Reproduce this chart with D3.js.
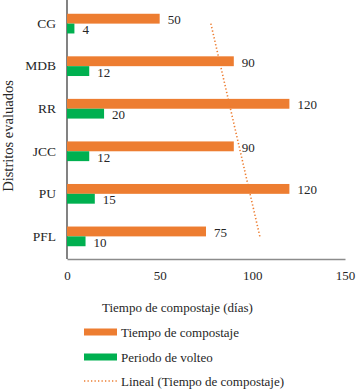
<!DOCTYPE html>
<html>
<head>
<meta charset="utf-8">
<script src="https://cdn.jsdelivr.net/npm/d3@7"></script>
<style>
  body { margin: 0; background: #fff; }
  svg text { font-family: "Liberation Serif", "DejaVu Serif", "Times New Roman", Times, serif !important; fill: #262626; }
</style>
</head>
<body>
<div id="plot"></div>
<script>
const districts = ["CG", "MDB", "RR", "JCC", "PU", "PFL"];
const tiempoCompostaje = [50, 90, 120, 90, 120, 75];
const periodoVolteo = [4, 12, 20, 12, 15, 10];
const xTicks = [0, 50, 100, 150];
const seriesNames = ["Tiempo de compostaje", "Periodo de volteo"];
const trendName = "Lineal (Tiempo de compostaje)";

const orange = "#ed7d31";
const green = "#00b050";

const w = 359, h = 391;
const plotLeft = 67, plotRight = 345, plotTop = 1, plotBottom = 259;

const svg = d3.select("#plot").append("svg")
  .attr("width", w).attr("height", h);

const xScale = d3.scaleLinear().domain([0, 150]).range([plotLeft, plotRight]);
const yScale = d3.scaleBand().domain(districts).range([plotTop, plotBottom])
  .paddingInner(0.537).paddingOuter(0.3);
const sub = d3.scaleBand().domain([0, 1]).range([0, yScale.bandwidth()]);

// axes
const xAxis = d3.axisBottom(xScale).tickValues(xTicks).tickSize(0).tickPadding(12);
const gx = svg.append("g").attr("transform", "translate(0," + plotBottom + ")").call(xAxis);
gx.select(".domain").attr("stroke", "#8c8c8c").attr("stroke-width", 1.3);
gx.selectAll("text").attr("font-size", 13).attr("fill", "#262626");

const yAxis = d3.axisLeft(yScale).tickSize(0).tickPadding(11);
const gy = svg.append("g").attr("transform", "translate(" + plotLeft + ",0)").call(yAxis);
gy.select(".domain").attr("d", "M0," + (plotTop - 1) + "V" + plotBottom).attr("stroke", "#404040").attr("stroke-width", 1.3);
gy.selectAll("text").attr("font-size", 13.5).attr("fill", "#262626");

// bars
const rows = districts.map((d, i) => ({ d: d, vals: [tiempoCompostaje[i], periodoVolteo[i]] }));
const colors = [orange, green];

rows.forEach(r => {
  r.vals.forEach((v, k) => {
    const y0 = yScale(r.d) + sub(k);
    svg.append("rect")
      .attr("x", xScale(0))
      .attr("y", y0)
      .attr("width", xScale(v) - xScale(0))
      .attr("height", sub.bandwidth())
      .attr("fill", colors[k]);
    svg.append("text")
      .attr("x", xScale(v) + 8)
      .attr("y", y0 + sub.bandwidth() / 2 + 1)
      .attr("dy", "0.35em")
      .attr("font-size", 13)
      .text(v);
  });
});

// linear trendline (Excel: category index 1 at bottom)
const n = districts.length;
const pts = districts.map((d, i) => ({ xi: n - i, y: tiempoCompostaje[i], d: d }));
const mx = d3.mean(pts, p => p.xi), my = d3.mean(pts, p => p.y);
const slope = d3.sum(pts, p => (p.xi - mx) * (p.y - my)) / d3.sum(pts, p => (p.xi - mx) ** 2);
const trend = xi => my + slope * (xi - mx);
const first = pts[0], last = pts[n - 1];
svg.append("line")
  .attr("x1", xScale(trend(first.xi)))
  .attr("y1", yScale(first.d) + yScale.bandwidth() / 2)
  .attr("x2", xScale(trend(last.xi)))
  .attr("y2", yScale(last.d) + yScale.bandwidth() / 2)
  .attr("stroke", orange).attr("stroke-width", 1.6)
  .attr("stroke-dasharray", "1.3,2.2");

// axis titles
svg.append("text")
  .attr("transform", "translate(8," + 136 + ") rotate(-90)")
  .attr("text-anchor", "middle").attr("dy", "0.35em")
  .attr("font-size", 14.5)
  .text("Distritos evaluados");

svg.append("text")
  .attr("x", 102).attr("y", 307).attr("dy", "0.35em")
  .attr("font-size", 13)
  .text("Tiempo de compostaje (días)");

// legend
const legY = [332, 357, 381];
seriesNames.forEach((s, k) => {
  svg.append("rect").attr("x", 84).attr("y", legY[k] - 3.5)
    .attr("width", 33).attr("height", 7).attr("fill", colors[k]);
  svg.append("text").attr("x", 121).attr("y", legY[k]).attr("dy", "0.35em")
    .attr("font-size", 13).text(s);
});
svg.append("line").attr("x1", 84).attr("x2", 117).attr("y1", legY[2]).attr("y2", legY[2])
  .attr("stroke", orange).attr("stroke-width", 1.6).attr("stroke-dasharray", "1.3,2.2");
svg.append("text").attr("x", 121).attr("y", legY[2]).attr("dy", "0.35em")
  .attr("font-size", 13).text(trendName);
</script>
</body>
</html>
